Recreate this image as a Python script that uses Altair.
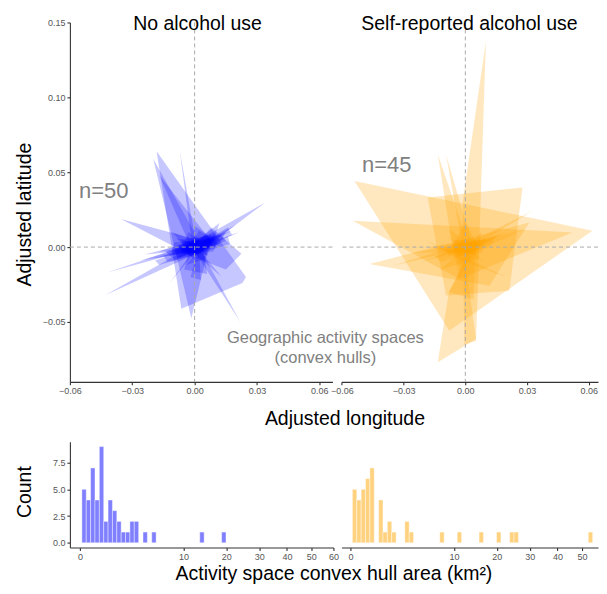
import altair as alt
import pandas as pd

# ---------------- data: activity-space convex hulls (adjusted lon, lat) ----------------
no_alcohol_hulls = [
    [(-0.0183, 0.0640), (0.0247, -0.0200), (0.0230, -0.0240), (-0.0064, -0.0411)],
    [(-0.0199, 0.0589), (0.0060, -0.0050), (-0.0016, -0.0475), (-0.0080, -0.0100)],
    [(-0.0170, 0.0480), (0.0080, 0.0040), (0.0000, -0.0060)],
    [(0.0080, 0.0130), (0.0225, -0.0045), (0.0150, -0.0150), (-0.0040, -0.0050)],
    [(-0.0431, -0.0322), (0.0030, 0.0040), (0.0015, -0.0040)],
    [(-0.0355, 0.0188), (0.0010, 0.0050), (-0.0010, -0.0060)],
    [(0.0340, 0.0298), (-0.0030, 0.0010), (0.0010, -0.0050)],
    [(0.0220, -0.0500), (-0.0025, 0.0025), (0.0040, -0.0045)],
    [(-0.0420, -0.0170), (0.0000, 0.0030), (0.0000, -0.0010)],
    [(-0.0072, 0.0650), (-0.0010, -0.0010), (0.0010, 0.0000)],
    [(0.0215, 0.0100), (-0.0020, -0.0010), (0.0000, -0.0040)],
    [(0.0200, 0.0150), (0.0000, 0.0000), (0.0020, -0.0030)],
    [(-0.0260, -0.0090), (0.0020, 0.0030), (0.0010, -0.0030)],
    [(-0.0240, -0.0050), (0.0010, 0.0040), (0.0000, -0.0020)],
    [(0.0130, -0.0200), (0.0000, 0.0020), (-0.0020, -0.0020)],
    [(-0.0120, -0.0240), (0.0010, 0.0010), (0.0010, -0.0020)],
    [(-0.0150, -0.0060), (0.0130, 0.0080), (0.0150, 0.0040), (-0.0130, -0.0100)],
    [(-0.0100, -0.0020), (0.0100, 0.0070), (0.0100, 0.0000), (-0.0080, -0.0070)],
    [(-0.0060, 0.0040), (0.0080, 0.0050), (0.0060, -0.0050), (-0.0070, -0.0040)],
    [(-0.0200, -0.0080), (0.0180, 0.0110), (0.0050, 0.0010)],
    [(-0.0040, 0.0030), (0.0040, 0.0030), (0.0030, -0.0030), (-0.0040, -0.0030)],
    [(-0.0080, 0.0010), (0.0060, 0.0080), (0.0090, 0.0020), (-0.0050, -0.0050)],
    [(-0.0120, -0.0100), (0.0060, 0.0060), (0.0030, -0.0040)],
    [(-0.0030, 0.0100), (0.0040, 0.0020), (-0.0010, -0.0080), (-0.0060, 0.0000)],
    [(-0.0170, -0.0030), (0.0110, 0.0100), (0.0040, -0.0030)],
    [(-0.0060, -0.0010), (0.0020, 0.0060), (0.0050, 0.0000), (-0.0010, -0.0040)],
    [(-0.0020, 0.0020), (0.0030, 0.0020), (0.0020, -0.0020), (-0.0030, -0.0010)],
    [(-0.0090, 0.0060), (0.0080, 0.0000), (0.0000, -0.0060)],
    [(-0.0040, -0.0120), (0.0080, 0.0090), (0.0050, -0.0080)],
    [(0.0000, 0.0140), (0.0100, 0.0050), (-0.0010, -0.0020)],
    [(-0.0110, 0.0100), (0.0050, 0.0020), (-0.0020, -0.0030)],
    [(0.0120, 0.0160), (0.0060, -0.0060), (-0.0010, 0.0020)],
    [(0.0160, 0.0130), (0.0180, 0.0080), (-0.0060, -0.0040)],
    [(0.0020, 0.0110), (0.0120, 0.0020), (-0.0030, -0.0050)],
    [(-0.0050, -0.0150), (0.0060, -0.0180), (0.0040, 0.0010), (-0.0020, 0.0020)],
    [(-0.0020, -0.0200), (0.0020, 0.0000), (0.0030, -0.0220)],
    [(-0.0190, -0.0090), (0.0160, 0.0070), (0.0170, 0.0020), (-0.0170, -0.0120)],
    [(-0.0140, -0.0030), (0.0150, 0.0100), (0.0120, 0.0020), (-0.0100, -0.0080)],
    [(-0.0100, 0.0030), (0.0120, 0.0060), (0.0090, -0.0030), (-0.0110, -0.0050)],
    [(-0.0160, -0.0070), (0.0090, 0.0040), (0.0060, -0.0010)],
    [(-0.0070, 0.0050), (0.0110, 0.0080), (0.0030, -0.0040)],
]

alcohol_hulls = [
    [(-0.0539, 0.0442), (0.0618, 0.0109), (-0.0078, -0.0558)],
    [(-0.0547, 0.0176), (0.0521, 0.0098), (-0.0029, -0.0213)],
    [(-0.0466, -0.0113), (0.0311, 0.0164), (0.0117, -0.0258)],
    [(-0.0183, 0.0331), (0.0278, 0.0398), (0.0214, -0.0291), (-0.0094, -0.0324)],
    [(0.0100, 0.1375), (-0.0013, 0.0300), (-0.0005, -0.0650), (0.0052, -0.0625)],
    [(-0.0134, -0.0769), (0.0052, -0.0613), (0.0000, -0.0100), (-0.0080, -0.0300)],
    [(-0.0134, 0.0620), (0.0000, 0.0080), (-0.0020, -0.0060), (-0.0060, -0.0020)],
    [(-0.0094, 0.0620), (0.0030, 0.0030), (-0.0010, -0.0030)],
    [(0.0327, 0.0242), (-0.0010, 0.0010), (0.0000, -0.0030)],
    [(-0.0353, -0.0124), (0.0010, 0.0030), (0.0000, -0.0010)],
    [(-0.0150, -0.0060), (0.0150, 0.0080), (0.0120, 0.0000), (-0.0120, -0.0100)],
    [(-0.0100, 0.0000), (0.0100, 0.0060), (0.0080, -0.0040), (-0.0080, -0.0060)],
    [(-0.0050, 0.0050), (0.0060, 0.0040), (0.0050, -0.0050), (-0.0060, -0.0040)],
    [(-0.0220, -0.0100), (0.0200, 0.0100), (0.0060, 0.0000)],
    [(-0.0030, 0.0020), (0.0030, 0.0030), (0.0030, -0.0030), (-0.0030, -0.0030)],
    [(-0.0080, 0.0120), (0.0040, 0.0000), (-0.0020, -0.0150)],
    [(-0.0100, 0.0080), (0.0090, -0.0100), (0.0030, -0.0020)],
    [(-0.0180, 0.0000), (0.0120, 0.0050), (0.0000, -0.0060)],
    [(0.0000, 0.0180), (0.0060, 0.0000), (-0.0030, -0.0200), (-0.0060, 0.0000)],
    [(-0.0040, -0.0020), (0.0250, 0.0090), (0.0020, -0.0040)],
    [(-0.0120, -0.0150), (0.0080, 0.0100), (0.0060, -0.0080)],
    [(-0.0060, 0.0020), (0.0040, 0.0060), (0.0060, -0.0010), (-0.0030, -0.0040)],
    [(0.0300, 0.0120), (0.0000, 0.0020), (-0.0010, -0.0020)],
    [(-0.0250, -0.0040), (0.0020, 0.0030), (0.0010, -0.0030)],
    [(-0.0200, 0.0050), (0.0200, -0.0200), (0.0000, -0.0100)],
    [(-0.0080, -0.0300), (0.0050, 0.0050), (0.0040, -0.0350)],
]

# ---------------- data: histogram of hull areas (bins on sqrt scale) ----------------
bin_start_sqrt = 0.061   # first bin edge, sqrt(km^2)
bin_width_sqrt = 0.1334  # bin width, sqrt(km^2)
no_alcohol_bins = [0, 1, 2, 3, 4, 5, 6, 7, 8, 9, 10, 11, 12, 14, 16, 27, 32]
no_alcohol_counts = [5, 4, 7, 4, 9, 2, 4, 3, 2, 1, 1, 2, 2, 1, 1, 1, 1]
alcohol_bins = [0, 1, 2, 3, 4, 6, 7, 8, 9, 12, 13, 20, 24, 29, 33, 36, 37, 54]
alcohol_counts = [5, 4, 5, 6, 7, 4, 1, 2, 1, 2, 1, 1, 1, 1, 1, 1, 1, 1]

lon_ticks = [-0.06, -0.03, 0.0, 0.03, 0.06]
lat_ticks = [-0.05, 0.0, 0.05, 0.10, 0.15]
area_ticks = [0, 10, 20, 30, 40, 50, 60]
count_ticks = [0, 2.5, 5, 7.5]

FONT = "Liberation Sans"
AX = dict(labelFont=FONT, titleFont=FONT, labelFontSize=9, labelColor="#555555",
          titleFontSize=19.5, titleFontWeight="normal", titleColor="#000000",
          domainColor="#333333", tickColor="#333333", tickSize=3, labelPadding=2,
          grid=False, labelFlush=False)

TOP_H = 360
HIST_H = 106


def poly_df(polys, tag):
    rows = []
    for i, p in enumerate(polys):
        for k, (x, y) in enumerate(p):
            rows.append({"pid": f"{tag}{i}", "k": k, "lon": x, "lat": y})
    return pd.DataFrame(rows)


def hist_df(bins, counts):
    return pd.DataFrame({
        "a0": [(bin_start_sqrt + b * bin_width_sqrt) ** 2 for b in bins],
        "a1": [(bin_start_sqrt + (b + 1) * bin_width_sqrt) ** 2 for b in bins],
        "count": counts,
        "base": [0] * len(bins),
    })


YDOM = [-0.09, 0.15]


def top_panel(polys, tag, color, opacity, xdom, width, left, title, ntext, npos):
    xaxis = alt.Axis(values=lon_ticks, format=".2f", title="Adjusted longitude" if left else "",
                     titleX=275, titlePadding=14, minExtent=14, maxExtent=14, **AX)
    yaxis = (alt.Axis(values=lat_ticks, format=".2f", title="Adjusted latitude", titleY=192,
                      titlePadding=5, minExtent=30, maxExtent=30, **AX) if left else None)
    xs = alt.Scale(domain=xdom, nice=False, zero=False)
    ys = alt.Scale(domain=YDOM, nice=False, zero=False)

    def X(f):
        return alt.X(f, scale=xs, axis=xaxis)

    def Y(f):
        return alt.Y(f, scale=ys, axis=yaxis)

    hulls = alt.Chart(poly_df(polys, tag)).mark_line(
        filled=True, color=color, opacity=opacity, strokeWidth=0).encode(
        x=X("lon:Q"), y=Y("lat:Q"), detail="pid:N", order="k:Q")
    zero = pd.DataFrame({"v": [0.0]})
    vrule = alt.Chart(zero).mark_rule(color="#aaaaaa", strokeDash=[4, 3], strokeWidth=1).encode(x=X("v:Q"))
    hrule = alt.Chart(zero).mark_rule(color="#aaaaaa", strokeDash=[4, 3], strokeWidth=1).encode(y=Y("v:Q"))
    ttl = alt.Chart(pd.DataFrame({"lon": [title[0]], "lat": [title[1]], "t": [title[2]]})).mark_text(
        font=FONT, fontSize=19.5, color="black", baseline="middle").encode(
        x=X("lon:Q"), y=Y("lat:Q"), text="t:N")
    ntx = alt.Chart(pd.DataFrame({"lon": [npos[0]], "lat": [npos[1]], "t": [ntext]})).mark_text(
        font=FONT, fontSize=22, color="#808080", baseline="middle").encode(
        x=X("lon:Q"), y=Y("lat:Q"), text="t:N")
    layers = [hulls, vrule, hrule, ttl, ntx]
    if left:
        ann = alt.Chart(pd.DataFrame({"lon": [0.0629, 0.0629], "lat": [-0.0607, -0.0740],
                                      "t": ["Geographic activity spaces", "(convex hulls)"]})).mark_text(
            font=FONT, fontSize=16.5, color="#808080", baseline="middle").encode(
            x=X("lon:Q"), y=Y("lat:Q"), text="t:N")
        layers.append(ann)
    return alt.layer(*layers).properties(width=width, height=TOP_H)


def hist_panel(bins, counts, fill, width, left, xdom):
    xaxis = alt.Axis(values=area_ticks, format="d",
                     title="Activity space convex hull area (km²)" if left else "",
                     titleX=264, titlePadding=3, minExtent=14, maxExtent=14, **AX)
    yaxis = (alt.Axis(values=count_ticks, format=".1f", title="Count", titleY=50,
                      titlePadding=5, minExtent=30, maxExtent=30, **AX) if left else None)
    return alt.Chart(hist_df(bins, counts)).mark_rect(fill=fill, stroke="white", strokeWidth=0.4).encode(
        x=alt.X("a0:Q", scale=alt.Scale(type="sqrt", domain=xdom, nice=False, zero=False), axis=xaxis),
        x2="a1:Q",
        y=alt.Y("count:Q", scale=alt.Scale(domain=[-0.45, 9.45], nice=False, zero=False), axis=yaxis),
        y2="base:Q",
    ).properties(width=width, height=HIST_H)


tl = top_panel(no_alcohol_hulls, "n", "#0000ff", 0.22, [-0.06, 0.0663], 263, True,
               (0.0014, 0.1487, "No alcohol use"), "n=50", (-0.0437, 0.0375))
tr = top_panel(alcohol_hulls, "a", "#ffa500", 0.25, [-0.06024, 0.0645], 257, False,
               (0.0020, 0.1487, "Self-reported alcohol use"), "n=45", (-0.0382, 0.0547))
bl = hist_panel(no_alcohol_bins, no_alcohol_counts, "#8080ff", 264, True, [-0.093, 60])
br = hist_panel(alcohol_bins, alcohol_counts, "#ffd280", 257, False, [-0.075, 57.17])

chart = alt.concat(tl, tr, bl, br, columns=2, spacing=alt.RowColnumber(row=60, column=8),
                   bounds="flush").properties(
    padding={"left": 7, "top": 5, "right": 0, "bottom": 0}
).configure_view(stroke=None).configure_axis(domainWidth=1.1, tickWidth=1.1)

chart.save("out.html", embed_options={"renderer": "svg", "actions": False})
